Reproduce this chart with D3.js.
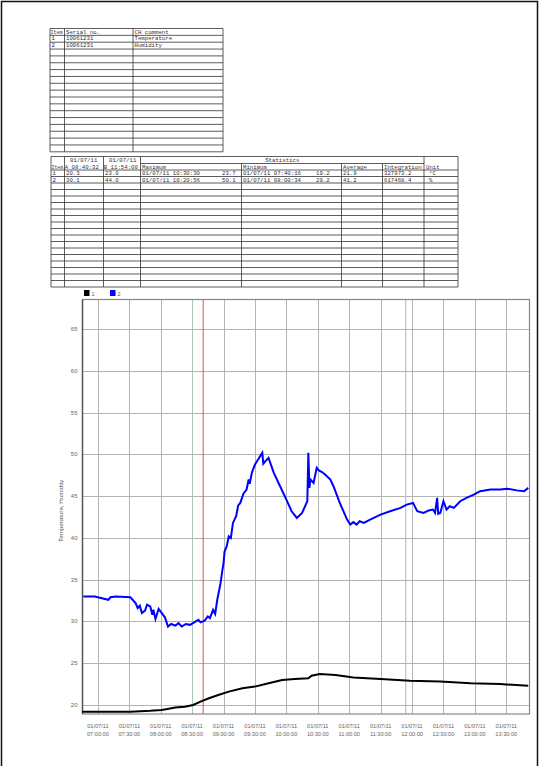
<!DOCTYPE html>
<html>
<head>
<meta charset="utf-8">
<script src="https://cdn.jsdelivr.net/npm/d3@7"></script>
<style>
  body { margin: 0; background: #fff; }
  svg { display: block; }
  text { font-family: "Liberation Sans", "DejaVu Sans", sans-serif; }
  .cell { font-family: "Liberation Mono", "DejaVu Sans Mono", monospace; font-size: 5.7px; }
</style>
</head>
<body>
<div id="chart"></div>
<script>
// ---- data ----
var channelItems = ["1", "2"];
var serialNos = ["10061231", "10061231"];
var chComments = ["Temperature", "Humidity"];

var cursorA = "08:40:32";
var cursorB = "11:54:00";
var valuesA = ["20.3", "30.1"];
var valuesB = ["23.0", "44.0"];
var maxTimes = ["01/07/11 10:30:30", "01/07/11 10:20:56"];
var maxValues = ["23.7", "50.1"];
var minTimes = ["01/07/11 07:40:16", "01/07/11 08:00:34"];
var minValues = ["19.2", "29.2"];
var averages = ["21.9", "41.2"];
var integrations = ["327973.2", "617468.4"];
var units = ["\u00b0C", "%"];

var tempTimes = ["06:45", "07:02", "07:31", "07:50", "08:01", "08:14", "08:23", "08:31", "08:38", "08:46",
  "08:55", "09:05", "09:18", "09:30", "09:43", "09:56", "10:08", "10:21", "10:24", "10:32",
  "10:47", "11:04", "11:30", "11:58", "12:27", "12:56", "13:24", "13:51"];
var tempValues = [19.2, 19.2, 19.2, 19.3, 19.4, 19.7, 19.8, 20.0, 20.4, 20.8,
  21.2, 21.6, 22.0, 22.2, 22.6, 23.0, 23.1, 23.2, 23.5, 23.7,
  23.6, 23.3, 23.1, 22.9, 22.8, 22.6, 22.5, 22.3];

var humTimes = ["06:46", "06:57", "07:10", "07:12", "07:17", "07:31", "07:36", "07:38", "07:40", "07:42",
  "07:45", "07:47", "07:50", "07:52", "07:53", "07:55", "07:58", "08:01", "08:04", "08:07",
  "08:10", "08:14", "08:17", "08:20", "08:24", "08:28", "08:32", "08:36", "08:38", "08:42",
  "08:45", "08:47", "08:50", "08:52", "08:54", "08:57", "08:59", "09:00", "09:01", "09:03",
  "09:05", "09:07", "09:09", "09:12", "09:14", "09:16", "09:19", "09:22", "09:24", "09:25",
  "09:27", "09:30", "09:33", "09:35", "09:37", "09:38", "09:40", "09:43", "09:48", "09:54",
  "10:00", "10:05", "10:10", "10:15", "10:20", "10:21", "10:22", "10:23", "10:26", "10:29",
  "10:31", "10:34", "10:37", "10:42", "10:45", "10:51", "10:58", "11:01", "11:04", "11:07",
  "11:10", "11:14", "11:20", "11:25", "11:30", "11:39", "11:49", "11:55", "12:01", "12:05",
  "12:11", "12:16", "12:20", "12:22", "12:24", "12:25", "12:27", "12:30", "12:33", "12:36",
  "12:40", "12:46", "12:52", "12:59", "13:05", "13:15", "13:24", "13:31", "13:40", "13:47",
  "13:51"];
var humValues = [33.0, 33.0, 32.6, 32.9, 33.0, 32.9, 32.2, 31.6, 31.9, 31.0,
  31.3, 32.0, 31.8, 30.8, 31.4, 30.3, 31.5, 31.0, 30.5, 29.4,
  29.7, 29.5, 29.8, 29.4, 29.7, 29.6, 29.9, 30.2, 29.9, 30.1,
  30.6, 30.4, 31.4, 30.9, 32.6, 34.5, 36.2, 37.0, 38.4, 39.0,
  40.2, 40.0, 41.8, 42.6, 43.9, 44.2, 45.3, 45.8, 47.0, 46.5,
  47.8, 48.8, 49.4, 49.8, 50.2, 48.9, 49.2, 49.6, 47.8, 46.2,
  44.6, 43.2, 42.4, 43.0, 44.4, 50.2, 46.0, 47.0, 46.6, 48.4,
  48.1, 47.9, 47.6, 47.0, 46.2, 44.2, 42.2, 41.6, 41.9, 41.6,
  42.0, 41.8, 42.2, 42.5, 42.8, 43.2, 43.6, 44.0, 44.2, 43.2,
  43.0, 43.3, 43.4, 43.0, 44.8, 42.9, 43.0, 44.4, 43.4, 43.8,
  43.6, 44.4, 44.8, 45.2, 45.6, 45.8, 45.8, 45.9, 45.7, 45.6,
  46.0];

var yTicks = [20, 25, 30, 35, 40, 45, 50, 55, 60, 65];
var seriesColors = ["#000000", "#0000ff"];

// ---- page ----
var width = 539, height = 766;
var svg = d3.select("#chart").append("svg")
  .attr("width", width)
  .attr("height", height);

// page frame
svg.append("path")
  .attr("d", "M1.5,766V1.5H537.5V766")
  .attr("fill", "none")
  .attr("stroke", "#111")
  .attr("stroke-width", 1.5);

function hline(g, x1, x2, y) {
  g.append("line").attr("x1", x1).attr("x2", x2).attr("y1", y).attr("y2", y)
    .attr("stroke", "#333").attr("stroke-width", 0.8);
}
function vline(g, x, y1, y2) {
  g.append("line").attr("x1", x).attr("x2", x).attr("y1", y1).attr("y2", y2)
    .attr("stroke", "#333").attr("stroke-width", 0.8);
}
function cell(g, x, y, s, color) {
  return g.append("text").attr("class", "cell").attr("x", x).attr("y", y)
    .style("fill", color || "#333").text(s);
}

// ---- channel table ----
var t1 = svg.append("g");
var t1Cols = [50, 64.5, 133, 223];
var t1Top = 28.5, t1RowH = 6.85, t1Rows = 18;
for (var r = 0; r <= t1Rows; r++) hline(t1, t1Cols[0], t1Cols[3], t1Top + r * t1RowH);
t1Cols.forEach(function (x) { vline(t1, x, t1Top, t1Top + t1Rows * t1RowH); });
cell(t1, 50.5, t1Top + 5, "Item").style("font-size", "5px");
cell(t1, 66, t1Top + 5, "Serial no.");
cell(t1, 134.5, t1Top + 5, "CH comment");
channelItems.forEach(function (it, i) {
  var y = t1Top + (i + 1) * t1RowH + 5;
  cell(t1, 51.5, y, it, i === 1 ? "#0000cc" : "#333");
  cell(t1, 66, y, serialNos[i]);
  cell(t1, 134.5, y, chComments[i]);
});

// ---- statistics table ----
var t2 = svg.append("g");
var t2Cols = [51, 64.5, 103.5, 140.5, 241.5, 341.5, 382.5, 424, 458];
var t2Top = 156.5, t2Mid = 163.5, t2Head = 170, t2RowH = 6.5, t2Rows = 18;
var t2Bottom = t2Head + t2Rows * t2RowH;
hline(t2, t2Cols[0], t2Cols[8], t2Top);
hline(t2, t2Cols[3], t2Cols[7], t2Mid);
for (var r2 = 0; r2 <= t2Rows; r2++) hline(t2, t2Cols[0], t2Cols[8], t2Head + r2 * t2RowH);
t2Cols.forEach(function (x, i) {
  var top = (i >= 4 && i <= 6) ? t2Mid : t2Top;
  vline(t2, x, top, t2Bottom);
});
cell(t2, 70, t2Top + 5, "01/07/11");
cell(t2, 109, t2Top + 5, "01/07/11");
t2.append("text").attr("class", "cell").attr("x", (t2Cols[3] + t2Cols[7]) / 2).attr("y", t2Top + 5)
  .attr("text-anchor", "middle").style("fill", "#333").text("Statistics");
cell(t2, 51.5, t2Mid + 5, "Item").style("font-size", "4.8px");
cell(t2, 64.8, t2Mid + 5, "A " + cursorA);
cell(t2, 103.8, t2Mid + 5, "B " + cursorB);
cell(t2, 142, t2Mid + 5, "Maximum");
cell(t2, 243, t2Mid + 5, "Minimum");
cell(t2, 343, t2Mid + 5, "Average");
cell(t2, 384, t2Mid + 5, "Integration");
cell(t2, 426, t2Mid + 5, "Unit");
channelItems.forEach(function (it, i) {
  var y = t2Head + i * t2RowH + 5;
  cell(t2, 52.5, y, it, i === 1 ? "#0000cc" : "#333");
  cell(t2, 66, y, valuesA[i]);
  cell(t2, 105, y, valuesB[i]);
  cell(t2, 142, y, maxTimes[i]);
  cell(t2, 222, y, maxValues[i]);
  cell(t2, 243, y, minTimes[i]);
  cell(t2, 316, y, minValues[i]);
  cell(t2, 343, y, averages[i]);
  cell(t2, 384, y, integrations[i]);
  cell(t2, 429, y, units[i]);
});

// ---- trend chart ----
var parseT = d3.timeParse("%H:%M:%S");
var parseHM = d3.timeParse("%H:%M");
var plot = { left: 82.5, right: 529.5, top: 299.5, bottom: 714 };

var x = d3.scaleTime()
  .domain([parseT("06:45:18"), parseT("13:52:12")])
  .range([plot.left, plot.right]);
var y = d3.scaleLinear()
  .domain([18.92, 68.56])
  .range([plot.bottom, plot.top]);

var chart = svg.append("g");

// legend
seriesColors.forEach(function (c, i) {
  var lx = 84 + i * 26;
  chart.append("rect").attr("x", lx).attr("y", 290).attr("width", 5.5).attr("height", 6)
    .attr("fill", c);
  chart.append("text").attr("x", lx + 7.5).attr("y", 295.5)
    .attr("font-size", 5.5).attr("fill", "#555").text(channelItems[i]);
});

// grid
var xTicks = d3.timeMinute.every(30).range(parseT("07:00:00"), parseT("13:30:01"));
chart.append("g").selectAll("line").data(xTicks).enter().append("line")
  .attr("x1", function (d) { return Math.round(x(d)) + 0.5; })
  .attr("x2", function (d) { return Math.round(x(d)) + 0.5; })
  .attr("y1", plot.top).attr("y2", plot.bottom)
  .attr("stroke", function (d) { return d3.timeFormat("%H:%M")(d) === "08:30" ? "#a8c8b8" : "#b4b4b4"; })
  .attr("stroke-width", 1);
chart.append("g").selectAll("line").data(yTicks).enter().append("line")
  .attr("x1", plot.left).attr("x2", plot.right)
  .attr("y1", function (d) { return Math.round(y(d)) + 0.5; })
  .attr("y2", function (d) { return Math.round(y(d)) + 0.5; })
  .attr("stroke", "#b4b4b4").attr("stroke-width", 1);

// cursors
chart.append("line")
  .attr("x1", x(parseT(cursorA))).attr("x2", x(parseT(cursorA)))
  .attr("y1", plot.top).attr("y2", plot.bottom)
  .attr("stroke", "#e05050").attr("stroke-width", 1);
chart.append("line")
  .attr("x1", x(parseT(cursorB))).attr("x2", x(parseT(cursorB)))
  .attr("y1", plot.top).attr("y2", plot.bottom)
  .attr("stroke", "#b0b0e0").attr("stroke-width", 1);

// frame
chart.append("rect")
  .attr("x", plot.left).attr("y", plot.top)
  .attr("width", plot.right - plot.left).attr("height", plot.bottom - plot.top)
  .attr("fill", "none").attr("stroke", "#888").attr("stroke-width", 1.2);
chart.append("line").attr("x1", plot.left).attr("x2", plot.left)
  .attr("y1", plot.top).attr("y2", plot.bottom).attr("stroke", "#555").attr("stroke-width", 1.4);

// y labels
chart.append("g").selectAll("text").data(yTicks).enter().append("text")
  .attr("x", 77.5).attr("y", function (d) { return y(d) + 2; })
  .attr("text-anchor", "end").attr("font-size", 6).attr("fill", "#666")
  .text(function (d) { return d; });
chart.append("text")
  .attr("transform", "translate(63," + ((plot.top + plot.bottom) / 2 + 4) + ") rotate(-90)")
  .attr("text-anchor", "middle").attr("font-size", 6.2).attr("fill", "#555")
  .text("Temperature, Humidity");

// x labels
var xl = chart.append("g").selectAll("g").data(xTicks).enter().append("g")
  .attr("transform", function (d) { return "translate(" + x(d) + ",0)"; });
xl.append("text").attr("y", 727.5).attr("text-anchor", "middle")
  .attr("font-size", 5.6).attr("fill", "#666").text("01/07/11");
xl.append("text").attr("y", 735.5).attr("text-anchor", "middle")
  .attr("font-size", 5.6).attr("fill", "#666").text(d3.timeFormat("%H:%M:%S"));

// series
var line = d3.line()
  .x(function (d) { return x(d.t); })
  .y(function (d) { return y(d.v); });
var tempData = tempTimes.map(function (t, i) { return { t: parseHM(t), v: tempValues[i] }; });
var humData = humTimes.map(function (t, i) { return { t: parseHM(t), v: humValues[i] }; });

chart.append("path").datum(tempData).attr("d", line)
  .attr("fill", "none").attr("stroke", seriesColors[0]).attr("stroke-width", 2);
chart.append("path").datum(humData).attr("d", line)
  .attr("fill", "none").attr("stroke", seriesColors[1]).attr("stroke-width", 2);
</script>
</body>
</html>
